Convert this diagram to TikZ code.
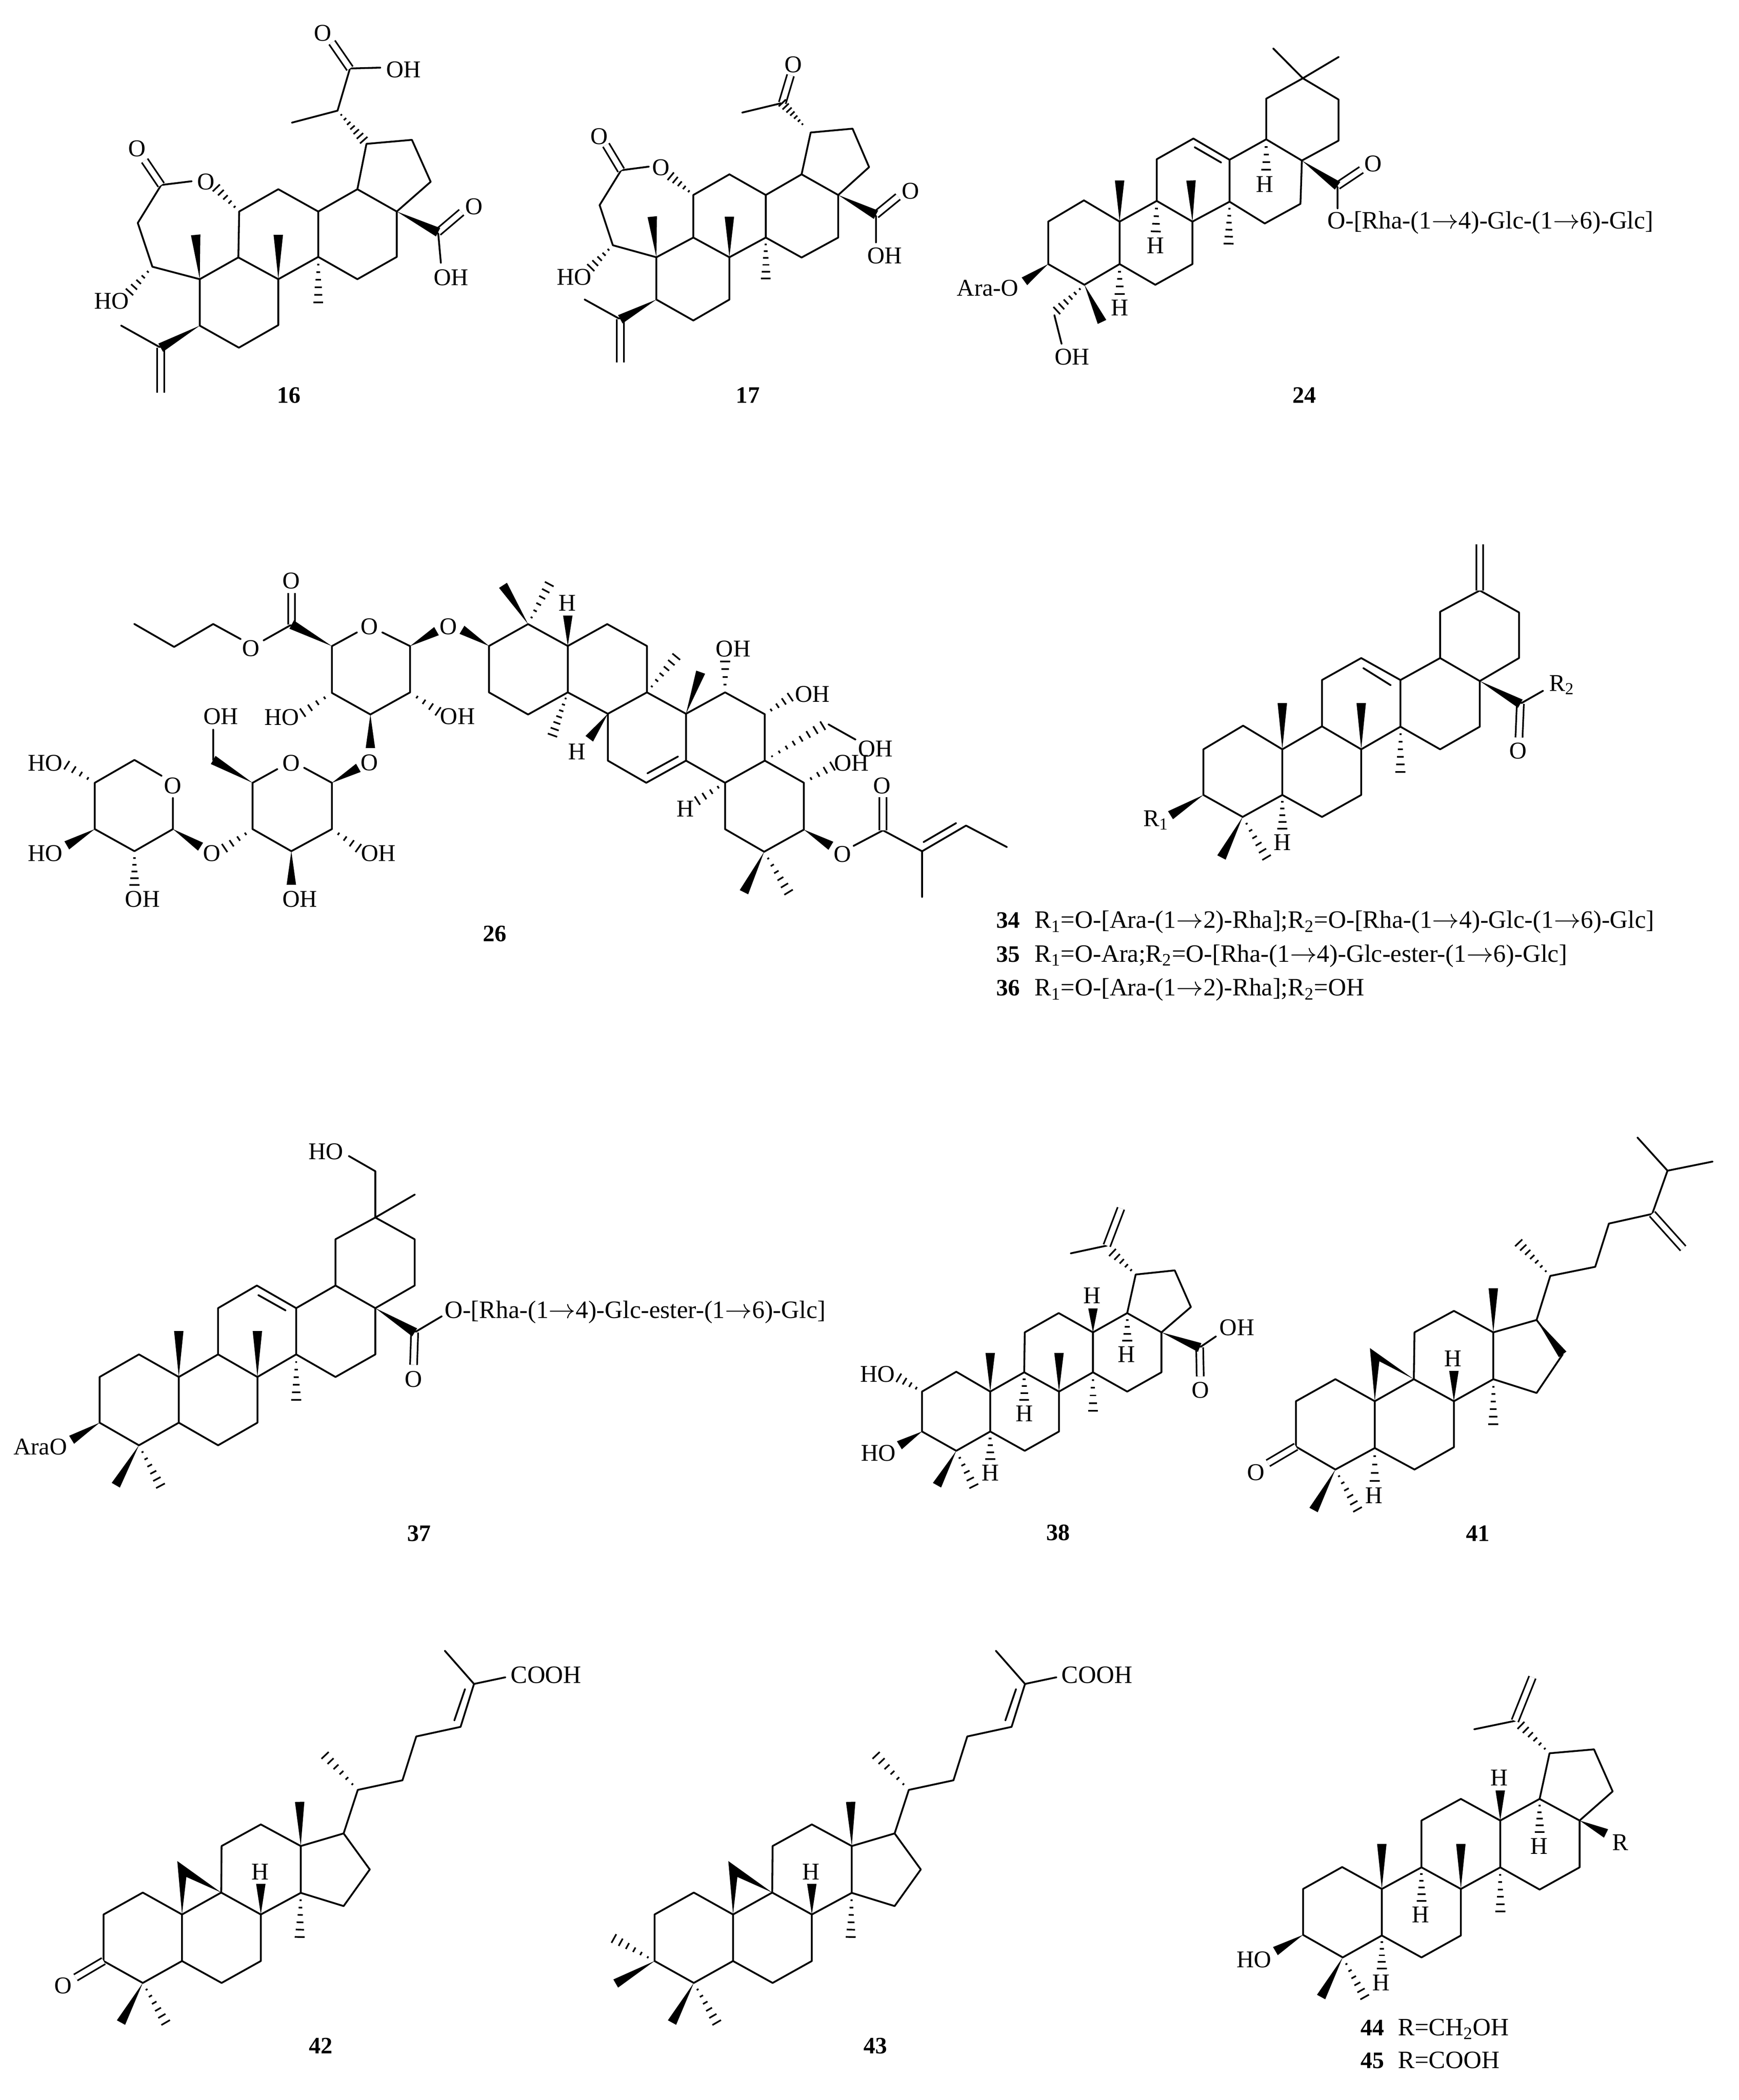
\documentclass[tikz,border=0pt]{standalone}
\usepackage{fontspec}
\setmainfont{Liberation Serif}
\usetikzlibrary{calc}
\newcommand\arr{\ensuremath{\rightarrow}}
\tikzset{
  bond/.style={line width=1.15pt,line join=round,line cap=round,black},
  dbl/.style={line width=1.05pt,double,double distance=3.4pt},
  hashline/.style={line width=1.05pt,black},
  lab/.style={font=\fontsize{15.3}{18}\selectfont,inner sep=0pt},
  txt/.style={font=\fontsize{15.9}{18}\selectfont,inner sep=0pt,anchor=west,text height=11pt,text depth=3pt},
  num/.style={font=\fontsize{15}{18}\selectfont\bfseries,inner sep=0pt,text height=11pt,text depth=3pt},
  crop/.style n args={4}{shift={(#1*0.25pt,-#2*0.25pt)},x=#3pt,y=-#4pt}
}
\newcommand\atoms[1]{\foreach \n/\xx/\yy in {#1}{\coordinate (\n) at (\xx,\yy);}}
\newcommand\wdg[2]{\fill[black] ($(#2)!3pt!90:(#1)$) -- ($(#2)!3pt!-90:(#1)$) -- (#1) -- cycle;}
\newcommand\hsh[3][6]{\foreach \i in {1,...,#1}{\pgfmathsetmacro\hT{\i/#1}\pgfmathsetlengthmacro\hW{\hT*3pt+0.15pt}\coordinate (hh) at ($(#2)!\hT!(#3)$);\draw[hashline] ($(hh)!\hW!90:(#2)$) -- ($(hh)!\hW!-90:(#2)$);}}
\newcommand\cycloskel{%
  \atoms{a/177/950,b/285/877,c/393/950,d/393/1105,e/285/1178,f/177/1105,g/501/877,h/610/950,i/610/1105,j/502/1178,k/502/722,l/610/650,m/720/722,n/720/878,o/838/680,p/910/800,q/838/922,r/380/772,s/405/825,t/610/848,u/717/575,v/717/1025,w/877/535,x/1000/503,y/1038/357,z/1160/325,A/1197/182,B/1283/160,C/1117/72,D/1143/303,E/1172/200,F/787/420,G/225/1310,H/348/1310}
  \draw[bond] (f)--(a)--(b)--(c)--(d)--(e)--(f) (c)--(g)--(h)--(i)--(j)--(d) (g)--(k)--(l)--(m)--(n)--(h) (m)--(o)--(p)--(q)--(n) (o)--(w)--(x)--(y)--(z)--(A)--(B) (A)--(C) (D)--(E);
  \fill[black] (c)--(r)--(g)--(s)--cycle;
  \wdg{h}{t}\wdg{m}{u}\hsh[6]{n}{v}\hsh[6]{w}{F}\wdg{e}{G}\hsh[6]{e}{H}
}
\begin{document}
\begin{tikzpicture}
\useasboundingbox (0,0) rectangle (1106.75pt,-1337.25pt);
% ---------- 16
\begin{scope}[crop={200}{0}{.175383}{.169005}]
\atoms{a/440/1052,b/580/970,c/725/1052,d/725/1225,e/582/1310,f/440/1227,g/583/797,h/725/713,i/870/797,j/870/968,k/1012/713,l/1155/797,m/1155/968,n/1012/1052,o/1045/542,p/1210/527,q/1278/685,r/940/417,s/1035/528,t/775/462,u/985/258,v/1095/255,w/920/160,y/1305/875,z/1390/800,A/1315/990,B/410/683,C/300/697,D/240/605,E/215/840,F/268/1005,G/185/1100,H/500/708,I/298/1310,J/298/1480,K/155/1227,L/425/885,M/725/885,N/870/1140}
\draw[bond] (a)--(b)--(c)--(d)--(e)--(f)--cycle (b)--(g)--(h)--(i)--(j)--(c) (i)--(k)--(l)--(m)--(n)--(j) (k)--(o)--(p)--(q)--(l) (t)--(r)--(u)--(v) (y)--(A) (B)--(C)--(E)--(F)--(a) (K)--(I);
\draw[dbl] (u)--(w); \draw[dbl] (y)--(z); \draw[dbl] (C)--(D); \draw[dbl] (I)--(J);
\wdg{a}{L}\wdg{c}{M}\wdg{l}{y}\wdg{f}{I}
\hsh[7]{r}{s}\hsh[5]{g}{H}\hsh[5]{F}{G}\hsh[6]{j}{N}
\node[lab] (o16a) at (887,125) {O};
\node[lab] (oh16a) at (1180,262) {OH};
\node[lab] (o16b) at (1435,778) {O};
\node[lab] (oh16b) at (1352,1045) {OH};
\node[lab] (o16c) at (463,685) {O};
\node[lab] (o16d) at (212,560) {O};
\node[lab] (ho16) at (120,1135) {HO};
\node[num] (n16) at (763,1495) {16};
\end{scope}
% ---------- 17
\begin{scope}[crop={1350}{100}{.175383}{.153061}]
\atoms{a/458/907,b/592/825,c/723/907,d/723/1083,e/592/1170,f/458/1083,g/592/648,h/723/562,i/855/648,j/855/825,k/985/562,l/1118/648,m/1118/825,n/985/908,o/1018/388,p/1170/372,q/1230/532,r/915/265,s/1000/368,t/770/305,w/945/150,y/1255/730,z/1335/655,A/1255/845,B/430/530,C/330/545,D/275/440,E/252/690,F/300/857,G/220/950,H/510/570,I/327/1165,J/327/1345,K/198/1083,L/443/738,M/723/738,N/855/995}
\draw[bond] (a)--(b)--(c)--(d)--(e)--(f)--cycle (b)--(g)--(h)--(i)--(j)--(c) (i)--(k)--(l)--(m)--(n)--(j) (k)--(o)--(p)--(q)--(l) (t)--(r) (y)--(A) (B)--(C)--(E)--(F)--(a) (K)--(I);
\draw[dbl] (r)--(w); \draw[dbl] (y)--(z); \draw[dbl] (C)--(D); \draw[dbl] (I)--(J);
\wdg{a}{L}\wdg{c}{M}\wdg{l}{y}\wdg{f}{I}
\hsh[7]{s}{r}\hsh[5]{g}{H}\hsh[5]{F}{G}\hsh[6]{j}{N}
\node[lab] (o17a) at (955,105) {O};
\node[lab] (o17b) at (1380,632) {O};
\node[lab] (oh17) at (1287,900) {OH};
\node[lab] (o17c) at (475,533) {O};
\node[lab] (o17d) at (250,405) {O};
\node[lab] (ho17) at (160,990) {HO};
\node[num] (n17) at (790,1487) {17};
\end{scope}
% ---------- 24
\begin{scope}[crop={2400}{0}{.302934}{.169005}]
\atoms{a/222/835,b/297/755,c/372/835,d/372/995,e/298/1073,f/222/995,g/450/757,h/525/835,i/525/995,j/447/1073,k/450/600,l/527/522,m/603/602,n/603/760,o/680/525,p/755/605,q/752/768,r/677/842,s/680/372,t/757/295,u/832/375,v/832/530,w/695/183,x/832/215,y/830/700,z/880/640,A/830/785,B/530/555,C/585/612,D/680/640,E/372/680,F/522/680,G/601/918,H/448/872,I/372/1108,J/172/1060,K/335/1213,L/240/1170,M/235/1188,N/250/1295}
\draw[bond] (a)--(b)--(c)--(d)--(e)--(f)--cycle (c)--(g)--(h)--(i)--(j)--(d) (g)--(k)--(l)--(m)--(n)--(h) (m)--(o)--(p)--(q)--(r)--(n) (o)--(s)--(t)--(u)--(v)--(p) (t)--(w) (t)--(x) (y)--(A) (B)--(C) (M)--(N);
\draw[dbl] (y)--(z);
\wdg{p}{y}\wdg{c}{E}\wdg{h}{F}\wdg{f}{J}\wdg{e}{K}
\hsh[4]{o}{D}\hsh[6]{n}{G}\hsh[4]{g}{H}\hsh[4]{d}{I}\hsh[6]{e}{L}
\node[lab] (o24) at (905,617) {O};
\node[txt] (t24) at (808,838) {O-[Rha-(1\arr4)-Glc-(1\arr6)-Glc]};
\node[lab] (h24a) at (677,695) {H};
\node[lab] (h24b) at (447,925) {H};
\node[lab] (h24c) at (372,1160) {H};
\node[lab] (ara24) at (95,1085) {Ara-O};
\node[lab] (oh24) at (272,1345) {OH};
\node[num] (n24) at (760,1495) {24};
\end{scope}
% ---------- 26, sugar part
\begin{scope}[crop={40}{1400}{.191327}{.167411}]
\atoms{p1/395/283,p2/527/370,p3/657/283,p4/748/340,p5/825/345,p6/918/285,p7/918/165,r1/1052/367,r2/1135/315,r3/1220/315,r4/1312/367,r5/1312/543,r6/1180/627,r7/1052/545,w1/1400/310,h1/955/620,h2/1405/615,w2/1180/755,s1/1052/887,s2/960/830,s3/870/835,s4/788/887,s5/788/1063,s6/917/1147,s7/1052/1063,w3/1140/830,w4/657/800,w5/657/685,h3/1140/1135,w6/917/1275,h4/695/1135,t1/523/1063,w7/615/1130,t2/523/945,t3/485/860,t4/395/800,t5/263/887,t6/263/1063,t7/395/1147,h5/170/820,w8/170/1125,h6/395/1275}
\draw[bond] (p1)--(p2)--(p3)--(p4) (p5)--(p6) (r2)--(r1)--(r7)--(r6)--(r5)--(r4)--(r3) (s2)--(s1)--(s7)--(s6)--(s5)--(s4)--(s3) (w4)--(w5) (t2)--(t1)--(t7)--(t6)--(t5)--(t4)--(t3);
\draw[dbl] (p6)--(p7);
\wdg{r1}{p6}\wdg{r4}{w1}\wdg{r6}{w2}\wdg{s1}{w3}\wdg{s4}{w4}\wdg{s6}{w6}\wdg{t1}{w7}\wdg{t6}{w8}
\hsh[4]{r7}{h1}\hsh[4]{r5}{h2}\hsh[4]{s7}{h3}\hsh[4]{s5}{h4}\hsh[4]{t5}{h5}\hsh[5]{t7}{h6}
\node[lab] (o26a) at (783,375) {O};
\node[lab] (o26b) at (917,118) {O};
\node[lab] (o26c) at (1177,292) {O};
\node[lab] (o26d) at (1440,292) {O};
\node[lab] (ho26a) at (885,637) {HO};
\node[lab] (oh26a) at (1470,635) {OH};
\node[lab] (o26e) at (1177,810) {O};
\node[lab] (o26f) at (917,812) {O};
\node[lab] (oh26b) at (683,635) {OH};
\node[lab] (oh26c) at (1207,1155) {OH};
\node[lab] (oh26d) at (945,1330) {OH};
\node[lab] (o26g) at (652,1155) {O};
\node[lab] (o26h) at (522,898) {O};
\node[lab] (ho26b) at (98,812) {HO};
\node[lab] (ho26c) at (98,1155) {HO};
\node[lab] (oh26e) at (422,1330) {OH};
\end{scope}
% ---------- 26, terpene part
\begin{scope}[crop={1100}{1500}{.207270}{.151467}]
\atoms{a/175/240,b/295/148,c/417/240,d/417/435,e/295/528,f/175/435,g/538/148,h/660/240,i/660/435,j/540/525,k/780/525,l/780/722,m/658/815,n/540/722,o/900/435,p/1022/527,q/1022/722,r/900/815,s/1142/815,t/1142/1012,u/1020/1105,v/900/1010,w/92/172,x/218/-15,y/360/-20,z/417/112,A/370/615,B/750/285,C/483/630,D/755/705,E/662/775,F/825/350,G/900/305,H/1100/455,I/1200/575,J/1218/570,K/1300/633,L/1230/745,M/815/890,N/1225/1080,O/1295/1080,P/1385/1015,Q/1385/875,R/1505/1103,S/1505/1295,T/1640/995,U/1765/1085,V/1510/1064,W/1609/985,X/958/1275,Y/1095/1275}
\draw[bond] (a)--(b)--(c)--(d)--(e)--(f)--cycle (c)--(g)--(h)--(i)--(j)--(d) (i)--(k)--(l)--(m)--(n)--(j) (k)--(o)--(p)--(q)--(r)--(l) (q)--(s)--(t)--(u)--(v)--(r) (D)--(E) (J)--(K) (O)--(P)--(R)--(S) (R)--(T)--(U) (V)--(W);
\draw[dbl] (P)--(Q);
\wdg{a}{w}\wdg{b}{x}\wdg{c}{z}\wdg{j}{C}\wdg{k}{F}\wdg{t}{N}\wdg{u}{X}
\hsh[6]{b}{y}\hsh[7]{d}{A}\hsh[6]{i}{B}\hsh[4]{o}{G}\hsh[4]{p}{H}\hsh[8]{q}{I}\hsh[4]{s}{L}\hsh[4]{r}{M}\hsh[6]{u}{Y}
\node[lab] (h26a) at (415,60) {H};
\node[lab] (h26b) at (445,685) {H};
\node[lab] (h26c) at (778,925) {H};
\node[lab] (oh26f) at (925,252) {OH};
\node[lab] (oh26g) at (1168,443) {OH};
\node[lab] (oh26h) at (1362,672) {OH};
\node[lab] (oh26i) at (1288,732) {OH};
\node[lab] (o26i) at (1260,1115) {O};
\node[lab] (o26j) at (1382,828) {O};
\node[num] (n26) at (192,1455) {26};
\end{scope}
% ---------- 34-36
\begin{scope}[crop={2450}{1250}{.286990}{.215242}]
\atoms{a/535/765,b/623/695,c/710/765,d/710/900,e/622/965,f/535/900,g/798/697,h/885/765,i/885/900,j/798/965,k/798/560,l/885/495,m/972/560,n/972/698,o/1060/495,p/1148/563,q/1148/698,r/1060/765,s/1060/358,t/1148/295,u/1235/360,v/1235/495,w/1148/158,x/890/525,y/950/575,z/1238/630,A/1288/592,B/1235/730,C/710/628,D/885/628,E/972/832,F/710/1000,G/462/960,H/575/1085,I/675/1085}
\draw[bond] (a)--(b)--(c)--(d)--(e)--(f)--cycle (c)--(g)--(h)--(i)--(j)--(d) (g)--(k)--(l)--(m)--(n)--(h) (m)--(o)--(p)--(q)--(r)--(n) (o)--(s)--(t)--(u)--(v)--(p) (x)--(y) (z)--(A);
\draw[dbl] (t)--(w); \draw[dbl] (z)--(B);
\wdg{p}{z}\wdg{c}{C}\wdg{h}{D}\wdg{f}{G}\wdg{e}{H}
\hsh[6]{n}{E}\hsh[5]{d}{F}\hsh[6]{e}{I}
\node[lab] (r2) at (1330,575) {R\textsubscript{2}};
\node[lab] (o34) at (1233,770) {O};
\node[lab] (h34) at (710,1040) {H};
\node[lab] (r1) at (430,975) {R\textsubscript{1}};
\node[num,anchor=west] (n34) at (75,1275) {34};
\node[txt] (t34) at (160,1275) {R\textsubscript{1}=O-[Ara-(1\arr2)-Rha];R\textsubscript{2}=O-[Rha-(1\arr4)-Glc-(1\arr6)-Glc]};
\node[num,anchor=west] (n35) at (75,1375) {35};
\node[txt] (t35) at (160,1375) {R\textsubscript{1}=O-Ara;R\textsubscript{2}=O-[Rha-(1\arr4)-Glc-ester-(1\arr6)-Glc]};
\node[num,anchor=west] (n36) at (75,1475) {36};
\node[txt] (t36) at (160,1475) {R\textsubscript{1}=O-[Ara-(1\arr2)-Rha];R\textsubscript{2}=OH};
\end{scope}
% ---------- 37
\begin{scope}[crop={0}{2850}{.342793}{.175383}]
\atoms{a/185/937,b/258/855,c/332/937,d/332/1103,e/258/1185,f/185/1103,g/405/855,h/478/937,i/478/1103,j/405/1185,k/405/687,l/477/605,m/550/687,n/550/855,o/623/605,p/697/687,q/697/855,r/623/937,s/623/437,t/697/358,u/770/437,v/770/605,w/770/275,x/697/190,y/648/135,z/770/775,A/820/717,B/768/893,C/480/640,D/530/695,E/332/770,F/478/770,G/550/1020,H/133/1165,I/215/1330,J/298/1332}
\draw[bond] (a)--(b)--(c)--(d)--(e)--(f)--cycle (c)--(g)--(h)--(i)--(j)--(d) (g)--(k)--(l)--(m)--(n)--(h) (m)--(o)--(p)--(q)--(r)--(n) (o)--(s)--(t)--(u)--(v)--(p) (t)--(w) (t)--(x)--(y) (z)--(A) (C)--(D);
\draw[dbl] (z)--(B);
\wdg{p}{z}\wdg{c}{E}\wdg{h}{F}\wdg{f}{H}\wdg{e}{I}
\hsh[6]{n}{G}\hsh[6]{e}{J}
\node[lab] (ho37) at (605,118) {HO};
\node[txt] (t37) at (825,700) {O-[Rha-(1\arr4)-Glc-ester-(1\arr6)-Glc]};
\node[lab] (o37) at (768,945) {O};
\node[lab] (ara37) at (75,1190) {AraO};
\node[num] (n37) at (778,1510) {37};
\end{scope}
% ---------- 38
\begin{scope}[crop={2130}{2850}{.180166}{.175383}]
\atoms{a/302/990,b/423/918,c/543/990,d/543/1135,e/423/1205,f/302/1135,g/663/920,h/786/990,i/786/1135,j/665/1205,k/665/775,l/785/705,m/906/775,n/906/920,o/1027/705,p/1148/775,q/1148/920,r/1027/990,s/1057/565,t/1195/550,u/1252/683,v/975/485,w/955/460,x/1005/325,y/828/488,z/1283/830,A/1340/790,B/1285/935,C/906/688,D/1027/805,E/543/850,F/786/850,G/663/1020,H/906/1060,I/543/1235,J/220/940,K/222/1185,L/355/1330,M/485/1333}
\draw[bond] (a)--(b)--(c)--(d)--(e)--(f)--cycle (c)--(g)--(h)--(i)--(j)--(d) (g)--(k)--(l)--(m)--(n)--(h) (m)--(o)--(p)--(q)--(r)--(n) (o)--(s)--(t)--(u)--(p) (y)--(w) (z)--(A);
\draw[dbl] (w)--(x); \draw[dbl] (z)--(B);
\wdg{m}{C}\wdg{p}{z}\wdg{c}{E}\wdg{h}{F}\wdg{f}{K}\wdg{e}{L}
\hsh[5]{s}{v}\hsh[4]{o}{D}\hsh[4]{g}{G}\hsh[5]{n}{H}\hsh[4]{d}{I}\hsh[4]{a}{J}\hsh[5]{e}{M}
\node[lab] (h38a) at (903,642) {H};
\node[lab] (h38b) at (1025,855) {H};
\node[lab] (oh38) at (1415,757) {OH};
\node[lab] (o38) at (1285,985) {O};
\node[lab] (h38c) at (663,1070) {H};
\node[lab] (h38d) at (543,1285) {H};
\node[lab] (ho38a) at (145,927) {HO};
\node[lab] (ho38b) at (148,1213) {HO};
\node[num] (n38) at (783,1508) {38};
\end{scope}
% ---------- 41
\begin{scope}[crop={3100}{2850}{.207270}{.175383}]
\atoms{a/241/1025,b/362/945,c/483/1025,d/483/1195,e/362/1273,f/241/1190,g/603/945,h/726/1025,i/726/1192,j/605/1273,k/605/775,l/726/697,m/847/775,n/847/945,o/980/730,p/1060/855,q/980/995,r/468/832,s/497/880,t/726/915,u/847/615,v/847/1108,w/1022/570,x/1160/537,y/1202/380,z/1335/345,A/1382/188,B/1520/155,C/1290/68,D/1430/470,E/925/450,F/155/1250,G/483/1315,H/295/1420,I/430/1418}
\draw[bond] (f)--(a)--(b)--(c)--(d)--(e)--(f) (c)--(g)--(h)--(i)--(j)--(d) (g)--(k)--(l)--(m)--(n)--(h) (m)--(o)--(p)--(q)--(n) (o)--(w)--(x)--(y)--(z)--(A)--(B) (A)--(C);
\draw[dbl] (z)--(D); \draw[dbl] (f)--(F);
\fill[black] (c)--(r)--(g)--(s)--cycle;
\wdg{o}{p}\wdg{h}{t}\wdg{m}{u}\wdg{e}{H}
\hsh[6]{n}{v}\hsh[7]{w}{E}\hsh[4]{d}{G}\hsh[6]{e}{I}
\node[lab] (h41a) at (723,870) {H};
\node[lab] (o41) at (118,1283) {O};
\node[lab] (h41b) at (480,1368) {H};
\node[num] (n41) at (800,1510) {41};
\end{scope}
% ---------- 42
\begin{scope}[crop={100}{4150}{.231186}{.191167}]
\cycloskel
\atoms{I/100/1160}
\draw[dbl] (f)--(I);
\node[lab] (h42) at (608,808) {H};
\node[lab] (o42) at (65,1187) {O};
\node[txt] (t42) at (1297,158) {COOH};
\node[num] (n42) at (775,1393) {42};
\end{scope}
% ---------- 43
\begin{scope}[crop={1503}{4150}{.231186}{.191167}]
\cycloskel
\atoms{I/65/1030,J/70/1180}
\hsh[6]{f}{I}\wdg{f}{J}
\node[lab] (h43) at (608,808) {H};
\node[txt] (t43) at (1297,158) {COOH};
\node[num] (n43) at (785,1393) {43};
\end{scope}
% ---------- 44, 45
\begin{scope}[crop={3050}{4150}{.191327}{.191167}]
\atoms{a/350/865,b/480/792,c/612/865,d/612/1020,e/482/1093,f/350/1018,g/744/793,h/875/865,i/875/1020,j/744/1093,k/744/637,l/875/565,m/1006/637,n/1006/793,o/1137/565,p/1270/637,q/1270/793,r/1137/867,s/1170/413,t/1318/400,u/1380/540,v/1075/320,w/1055/305,x/920/333,y/1113/160,z/1006/537,A/1137/675,B/1358/680,C/612/715,D/875/715,E/744/905,F/1006/940,G/612/1130,H/258/1072,I/410/1225,J/555/1225}
\draw[bond] (a)--(b)--(c)--(d)--(e)--(f)--cycle (c)--(g)--(h)--(i)--(j)--(d) (g)--(k)--(l)--(m)--(n)--(h) (m)--(o)--(p)--(q)--(r)--(n) (o)--(s)--(t)--(u)--(p) (x)--(w);
\draw[dbl] (w)--(y);
\wdg{m}{z}\wdg{p}{B}\wdg{c}{C}\wdg{h}{D}\wdg{f}{H}\wdg{e}{I}
\hsh[6]{s}{v}\hsh[5]{o}{A}\hsh[5]{g}{E}\hsh[6]{n}{F}\hsh[5]{d}{G}\hsh[6]{e}{J}
\node[lab] (h44a) at (1003,495) {H};
\node[lab] (h44b) at (1135,722) {H};
\node[lab] (r44) at (1405,710) {R};
\node[lab] (h44c) at (741,950) {H};
\node[lab] (h44d) at (610,1177) {H};
\node[lab] (ho44) at (187,1100) {HO};
\node[num,anchor=west] (n44) at (540,1332) {44};
\node[txt] (t44) at (665,1332) {R=CH\textsubscript{2}OH};
\node[num,anchor=west] (n45) at (540,1442) {45};
\node[txt] (t45) at (665,1442) {R=COOH};
\end{scope}
\end{tikzpicture}
\end{document}
